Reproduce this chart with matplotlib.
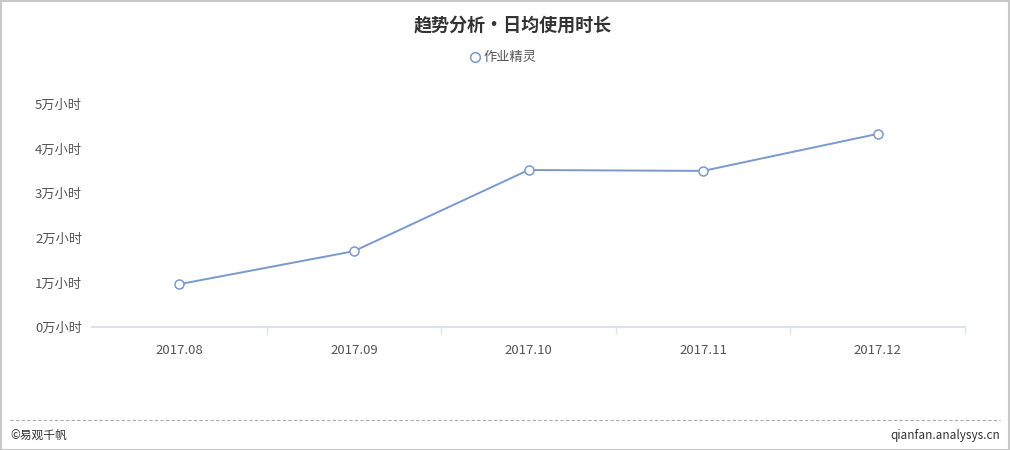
import matplotlib.pyplot as plt
from matplotlib.lines import Line2D
from matplotlib.patches import Rectangle

plt.rcParams['font.family'] = ['Noto Sans CJK SC', 'DejaVu Sans']

# data
months = ['2017.08', '2017.09', '2017.10', '2017.11', '2017.12']
hours = [0.96, 1.70, 3.52, 3.50, 4.33]   # 万小时
y_ticks = [0, 1, 2, 3, 4, 5]
y_labels = ['%d万小时' % v for v in y_ticks]
series_name = '作业精灵'
title = '趋势分析•日均使用时长'

line_color = '#7a9acb'
text_color = '#555555'

fig = plt.figure(figsize=(10.1, 4.5), dpi=100)
fig.patch.set_facecolor('white')

ax = fig.add_axes([92 / 1010, 1 - 327 / 450, 873 / 1010, 223 / 450])
x = list(range(len(months)))
ax.plot(x, hours, color=line_color, lw=1.4, marker='o', markersize=6.5,
        markerfacecolor='white', markeredgecolor=line_color, markeredgewidth=1.1,
        zorder=3, clip_on=False)

ax.set_xlim(-0.5, len(months) - 0.5)
ax.set_ylim(0, 5)
ax.set_xticks(x)
ax.set_xticklabels(months, fontsize=9.5, color=text_color)
ax.set_xticks([i + 0.5 for i in range(len(months))], minor=True)
ax.tick_params(axis='x', which='major', length=0, pad=12)
ax.tick_params(axis='x', which='minor', length=5, color='#dde3ea', width=1)
ax.set_yticks(y_ticks)
ax.set_yticklabels(y_labels, fontsize=9.5, color=text_color)
ax.tick_params(axis='y', length=0, pad=0)
for lab in ax.get_yticklabels():
    lab.set_horizontalalignment('left')
    lab.set_x(-57 / 873)

for s in ['top', 'right', 'left']:
    ax.spines[s].set_visible(False)
ax.spines['bottom'].set_color('#dde3ea')
ax.spines['bottom'].set_linewidth(1.5)

# title and legend
fig.text(513 / 1010, 1 - 26 / 450, title, ha='center', va='center', fontsize=13,
         fontweight='bold', color='#333333')
fig.add_artist(Line2D([475 / 1010], [1 - 57 / 450], marker='o', markersize=7,
                      markerfacecolor='white', markeredgecolor=line_color,
                      markeredgewidth=1.1, transform=fig.transFigure))
fig.text(484 / 1010, 1 - 57 / 450, series_name, ha='left', va='center',
         fontsize=9.5, color=text_color)

# footer
fig.add_artist(Line2D([10 / 1010, 1000 / 1010], [1 - 420 / 450] * 2, color='#aaaaaa',
                      lw=0.8, ls=(0, (3, 2)), transform=fig.transFigure))
fig.text(10 / 1010, 1 - 435 / 450, '©易观千帆', ha='left', va='center',
         fontsize=8.5, color='#333333')
fig.text(1000 / 1010, 1 - 435 / 450, 'qianfan.analysys.cn', ha='right', va='center',
         fontsize=8.5, color='#333333')

# border
fig.add_artist(Rectangle((0.5 / 1010, 0.5 / 450), 1 - 1.5 / 1010, 1 - 1.5 / 450,
                         transform=fig.transFigure, fill=False, ec='#c8c8c8', lw=1.5))

fig.savefig('out.png', dpi=100)
